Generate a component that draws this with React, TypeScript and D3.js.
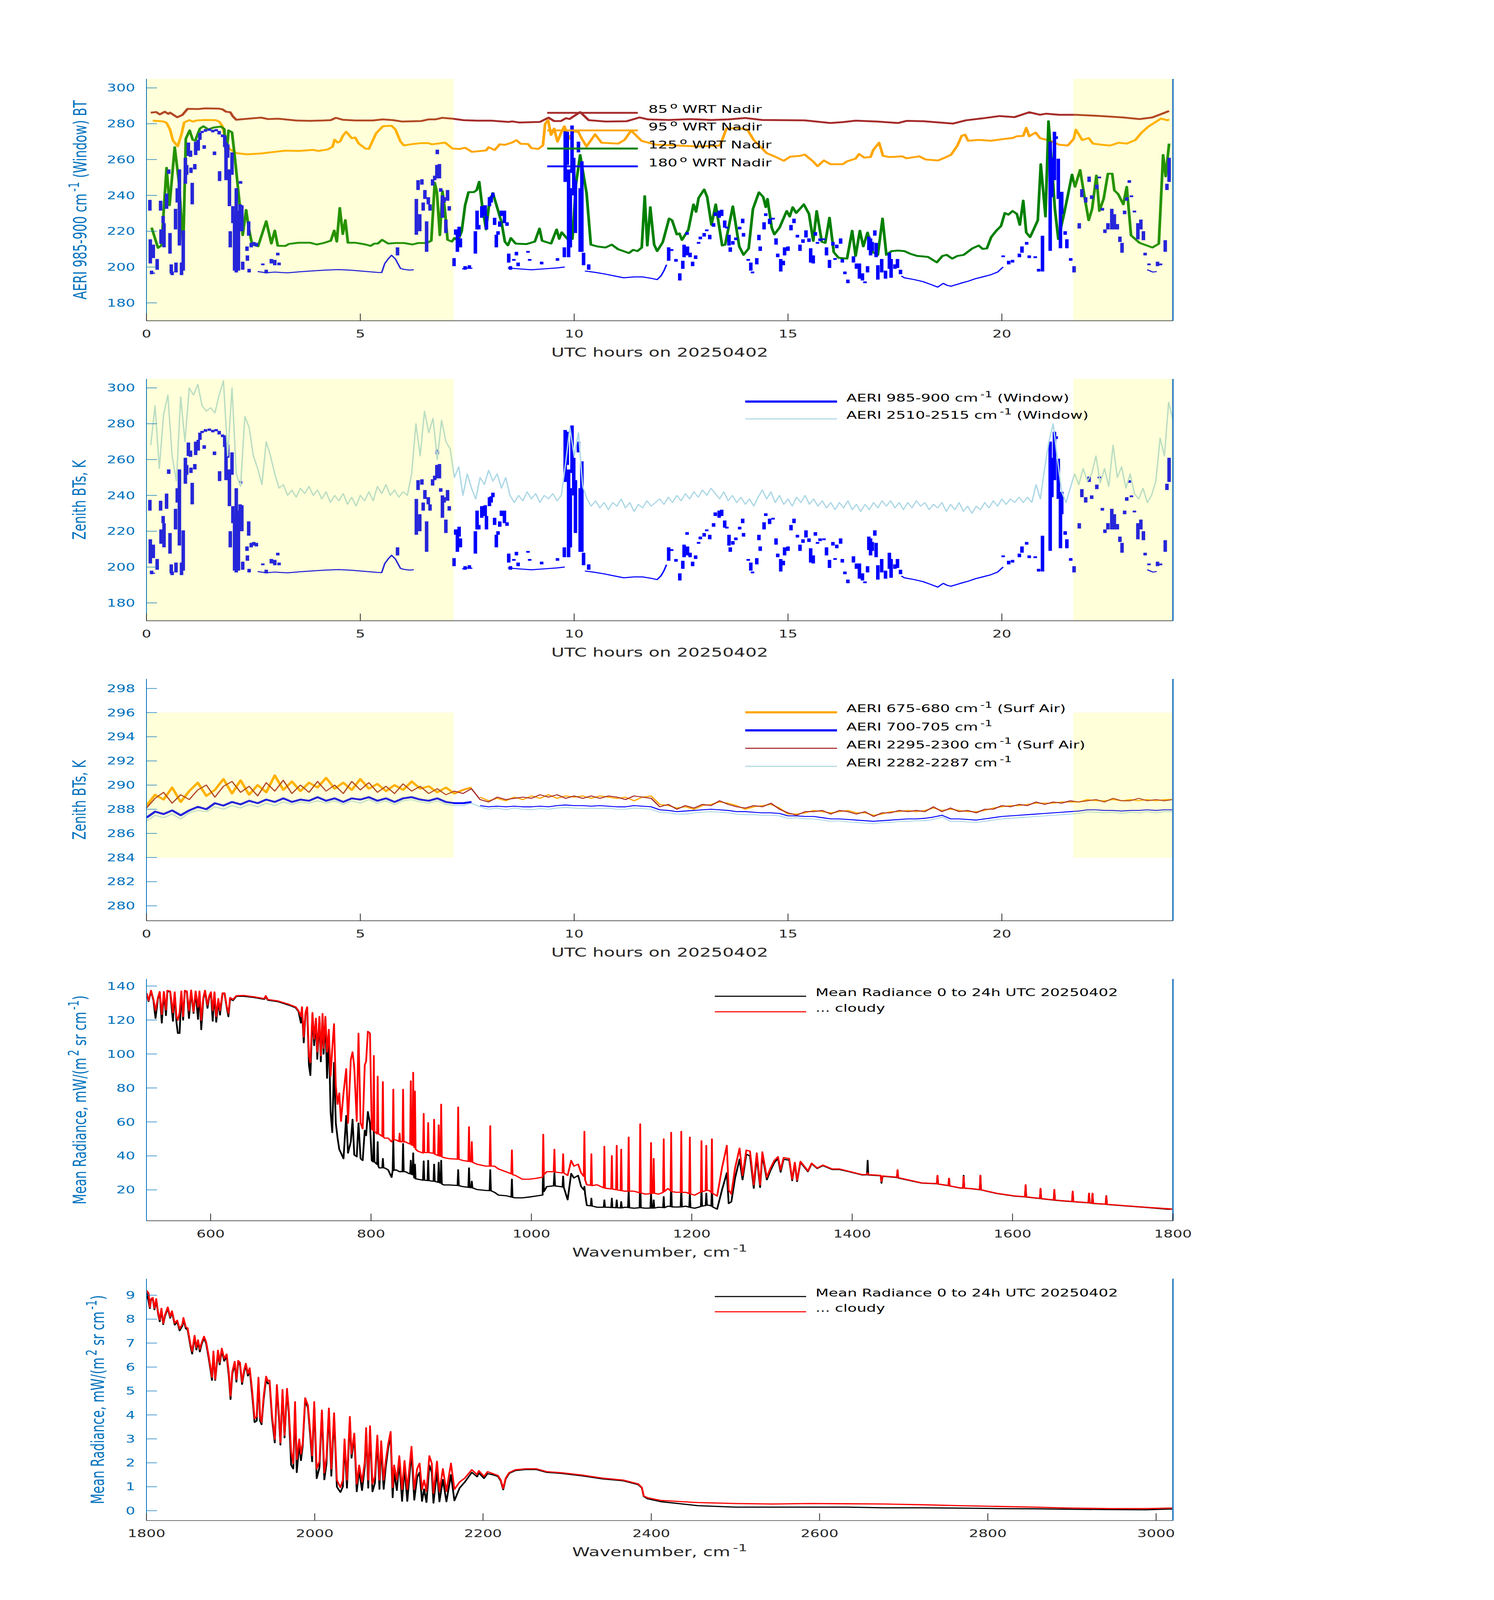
import React, { useLayoutEffect } from "react";
import * as d3 from "d3";

type Pt = [number, number];
type Gap = Pt | null;
type Bar = [number, number, number];
type Part = string | [string];

const FONT = "'DejaVu Sans', Verdana, sans-serif";
const AXIS_BLUE = "#0072BD";
const DARK = "#262626";
const PAGE_W = 3825;
const PAGE_H = 6000;
const PLOT_L = 375;
const PLOT_R = 3003;
const PLOT_H = 907;

// ---------- ticks ----------
const hourTicks = [0, 5, 10, 15, 20];
const btTicks = [180, 200, 220, 240, 260, 280, 300];
const surfTicks = [280, 282, 284, 286, 288, 290, 292, 294, 296, 298];
const radLongTicks = [20, 40, 60, 80, 100, 120, 140];
const wnLongTicks = [600, 800, 1000, 1200, 1400, 1600, 1800];
const radShortTicks = [0, 1, 2, 3, 4, 5, 6, 7, 8, 9];
const wnShortTicks = [1800, 2000, 2200, 2400, 2600, 2800, 3000];

// night (sun down) periods, UTC hours
const nightSpans: Pt[] = [[0, 7.18], [21.67, 24]];

// ---------- panel 1 : window BT at several scene angles ----------
const nadir85: Pt[] = [
  [0.1,286.2],[0.23,286.5],[0.31,285.2],[0.43,286.7],[0.51,285.5],[0.55,286.2],[0.72,283.6],[0.84,284.9],[0.96,288.3],[1.21,288.2],
  [1.37,288.6],[1.7,288.4],[1.78,288],[1.86,286.7],[1.96,286.4],[2.02,284.1],[2.1,282.2],[2.27,282.6],[2.51,283.1],[2.68,283.4],
  [2.84,282.6],[3.08,282.8],[3.49,281.8],[3.82,281.6],[4.14,281.8],[4.31,282],[4.43,283.3],[4.59,282.2],[4.88,281.8],[5.29,281.8],
  [5.53,282.4],[5.77,282],[5.98,281.2],[6.43,281.5],[6.59,282.4],[6.75,282.4],[6.92,283.3],[7.16,282.8],[7.41,282],[7.73,281.7],
  [8.06,281.7],[8.47,281],[8.55,281.3],[8.71,280.7],[9.2,281],[9.4,283.4],[9.53,281.5],[9.69,281.5],[9.81,283.1],[9.89,282.6],
  [10.14,286.5],[10.34,282],[10.59,281.5],[10.74,281.2],[11.23,281.4],[11.53,283.5],[11.73,282.4],[12.22,282.1],[12.72,282.6],[13.21,282.1],
  [13.61,282.4],[14,283.2],[14.4,282.1],[15.39,281.9],[15.99,280.4],[16.28,280.9],[16.58,281.7],[17.08,281.2],[17.57,280.4],[17.77,281.6],
  [18.17,281.4],[18.86,280.1],[19.16,281.9],[19.55,283],[19.95,284.3],[20.3,283.7],[20.64,286.4],[20.89,285],[21.04,285.6],[21.34,285],
  [21.73,285],[22.33,284.3],[22.83,283.5],[23.22,282.6],[23.52,283.5],[23.77,285.8],[23.91,287.1],
];

const nadir95: Pt[] = [
  [0.15,281.7],[0.39,281.3],[0.47,280.5],[0.55,276.8],[0.62,270.6],[0.73,267.4],[0.82,274.2],[0.88,280.7],[1,282],[1.08,281.2],
  [1.17,281.8],[1.37,282.1],[1.62,282],[1.71,281],[1.78,278.4],[1.86,270],[1.94,265.9],[2.1,263.6],[2.35,262.9],[2.68,263.4],
  [3,264.3],[3.25,265],[3.57,264.8],[3.9,265.4],[4.02,264.8],[4.23,265.6],[4.35,267.1],[4.4,271.1],[4.47,269.5],[4.53,270.2],
  [4.59,273.2],[4.67,275.5],[4.8,271.9],[4.88,272.3],[4.96,269],[5.12,266.1],[5.2,265.9],[5.37,274.7],[5.53,278.6],[5.73,278.9],
  [5.82,276.8],[5.94,270],[6.02,267.9],[6.18,268.5],[6.43,269.2],[6.59,269.2],[6.67,268.5],[6.84,269],[6.98,269.5],[7.16,266.1],
  [7.32,265.9],[7.45,266.6],[7.61,264.3],[7.94,265.1],[8,266.9],[8.14,265.3],[8.26,268.5],[8.38,268.2],[8.55,269.5],[8.65,270.8],
  [8.75,268.8],[8.92,268.7],[9,266.4],[9.16,265.9],[9.27,267.9],[9.32,279.9],[9.39,282],[9.46,273.7],[9.53,277.3],[9.61,270],
  [9.69,274.7],[9.77,278.6],[9.89,271.6],[9.98,275.8],[10.1,275.3],[10.18,271.6],[10.29,267.3],[10.49,274.1],[10.64,269.4],[11.03,268.9],
  [11.18,271],[11.33,276.2],[11.58,270.4],[11.92,268.3],[12.42,267.8],[12.91,267.3],[13.41,267.8],[13.56,277.2],[13.81,277.7],[14.05,276.7],
  [14.2,270.9],[14.5,263.6],[14.7,261.6],[14.9,259.3],[15.05,261.6],[15.29,262.1],[15.39,262.8],[15.59,258.9],[15.69,256.3],[15.84,259.5],
  [15.99,257.4],[16.28,257.4],[16.38,259],[16.58,260.5],[16.66,263.1],[16.78,261.1],[16.93,261.4],[16.99,265.2],[17.13,269.4],[17.22,262.1],
  [17.37,261.4],[17.67,261.8],[17.77,260.7],[18.07,261.8],[18.22,260],[18.51,259.5],[18.66,261],[18.81,262.6],[18.96,267.8],[19.06,273.2],
  [19.14,273.9],[19.21,270.5],[19.46,271],[19.75,270.5],[20.05,271.5],[20.25,272],[20.35,273],[20.5,273.2],[20.57,277.7],[20.64,273],
  [20.79,275.1],[20.89,272],[21.14,270.4],[21.34,268.3],[21.54,267.8],[21.68,271.5],[21.73,276.7],[21.88,270.9],[22.03,272],[22.13,268.9],
  [22.33,268.3],[22.53,267.8],[22.73,269.4],[22.92,268.9],[23.12,270.9],[23.27,275.1],[23.42,278.3],[23.72,282.9],[23.87,281.9],[23.91,282.4],
];

const nadir125: Pt[] = [
  [0.12,222],[0.27,210.7],[0.35,212.1],[0.47,255.4],[0.54,234.5],[0.66,266.9],[0.76,247.1],[0.86,211.6],[0.92,271.6],[1.01,276.3],
  [1.08,271.1],[1.14,270.6],[1.25,277.3],[1.33,278.6],[1.45,276.8],[1.57,277.9],[1.74,278.4],[1.82,277],[1.86,260.6],[1.92,276.3],
  [2,275.2],[2.06,262.7],[2.19,232.4],[2.25,217.8],[2.33,231.9],[2.39,222],[2.47,212.6],[2.61,211.6],[2.8,225.6],[2.92,213.1],
  [3,220.4],[3.07,211.9],[3.25,211.8],[3.33,212.9],[3.57,213.6],[3.82,213.6],[3.98,212.6],[4.14,213.4],[4.31,214.7],[4.39,220.4],
  [4.45,214.2],[4.52,233],[4.59,218.4],[4.65,226.2],[4.71,213.6],[4.88,213.6],[5.12,212.6],[5.24,211.8],[5.33,213.1],[5.41,213.1],
  [5.51,215.2],[5.65,213.1],[5.82,213.4],[6.02,213.4],[6.22,212.6],[6.35,213.4],[6.55,213.4],[6.66,214.7],[6.74,247.1],[6.79,241.8],
  [6.86,217.8],[6.92,242.4],[6.97,233.5],[7.04,215.2],[7.14,214.2],[7.2,216.2],[7.28,214.7],[7.37,219.9],[7.45,234.5],[7.53,241.8],
  [7.65,241.8],[7.72,242.9],[7.78,247.6],[7.85,234],[7.94,221],[8.02,236.6],[8.1,241.3],[8.21,232.4],[8.3,225.1],[8.38,214.2],
  [8.45,212.1],[8.52,216.2],[8.63,213.1],[8.88,212.8],[9.08,214.2],[9.19,221.5],[9.25,214.7],[9.46,213.1],[9.59,221],[9.65,215.7],
  [9.71,219.4],[9.86,215.2],[9.96,215.7],[10.04,245.9],[10.14,262.6],[10.29,241.2],[10.39,212.5],[10.54,211.5],[10.73,210.9],[10.88,212.5],
  [11.03,209.9],[11.28,207.8],[11.38,209.6],[11.48,208.9],[11.58,210.9],[11.65,239.6],[11.71,212],[11.78,233.4],[11.87,212.5],[11.94,208.9],
  [12.07,213.8],[12.22,227.1],[12.29,226.1],[12.4,218.2],[12.46,218.8],[12.52,215.1],[12.67,220.8],[12.79,235],[12.85,230.8],[12.91,238.6],
  [13.04,243.3],[13.11,239.1],[13.21,223.5],[13.31,235],[13.46,212],[13.53,212.5],[13.71,233.9],[13.86,211.5],[13.96,206.8],[14.08,210.4],
  [14.18,232.4],[14.32,241.7],[14.42,239.1],[14.48,233.4],[14.52,238.1],[14.62,221.9],[14.68,218.2],[14.8,221.9],[14.97,231.3],[15.04,228.2],
  [15.11,233.4],[15.19,230.2],[15.29,232.8],[15.37,235],[15.49,229.7],[15.59,214.6],[15.67,231.3],[15.79,214.1],[15.87,213.5],[15.97,227.6],
  [16.07,208.3],[16.18,205.2],[16.38,204.7],[16.5,220.3],[16.58,206.2],[16.68,220.3],[16.76,211.5],[16.86,219.3],[16.98,208.3],[17.1,206.8],
  [17.21,227.1],[17.3,206.8],[17.42,208.9],[17.57,209.2],[17.72,208.9],[17.87,207.3],[18.02,206.2],[18.27,205.7],[18.48,202.6],[18.61,206.2],
  [18.71,206.8],[18.84,204.7],[18.96,206.2],[19.11,206.8],[19.31,210.4],[19.46,212],[19.55,210.1],[19.65,210.4],[19.75,216.7],[19.87,220.3],
  [19.98,222.9],[20.07,230.2],[20.15,229.2],[20.25,231.3],[20.35,229.7],[20.42,223.5],[20.5,237.1],[20.57,219.3],[20.66,216.7],[20.74,220.8],
  [20.84,226.1],[20.91,257.4],[21.02,228.2],[21.09,281.4],[21.17,256.3],[21.24,232.4],[21.32,215.6],[21.44,228.2],[21.54,239.6],[21.64,251.6],
  [21.71,244.8],[21.83,254.2],[21.93,239.6],[22.03,226.1],[22.11,232.4],[22.21,251.1],[22.28,231.3],[22.38,238.1],[22.48,252.1],[22.58,252.1],
  [22.63,242.8],[22.72,240.7],[22.84,235],[22.92,244.8],[23.02,217.7],[23.22,213.5],[23.52,210.9],[23.67,213],[23.77,262.6],[23.83,250.6],
  [23.91,268.9],
];

// AERI 985-900 cm-1 zenith window BT: cloudy stretches as [hour, low K, high K] strokes
const win985Bars: Bar[] = [
  [0.08,231.5,237.5],[0.09,202,215.5],[0.12,196,198],[0.16,205,212.5],[0.25,198.5,204.5],[0.33,231.5,237],[0.34,213,221],[0.39,224.5,228.5],
  [0.41,211,224.5],[0.47,232.5,241],[0.52,252,254.5],[0.55,207.5,219],[0.58,196.5,201.5],[0.6,195.5,197.5],[0.68,221,232.5],[0.69,197,202.5],
  [0.72,236,244],[0.77,212,254.5],[0.82,195.5,202.5],[0.86,198,220.5],[0.91,246.5,261],[0.94,251.5,257],[0.98,262,269.5],[1.03,261.5,265],
  [1.04,252.5,255.5],[1.07,235,247],[1.13,254.5,257.5],[1.15,262.5,270],[1.21,265,271],[1.25,271,275],[1.3,274.8,276],[1.35,266,268],
  [1.38,275.5,277],[1.47,276,277.3],[1.55,275.2,276.6],[1.59,262.5,264.5],[1.63,275.8,277],[1.7,274,276],[1.71,248,253.5],[1.78,272.5,274],
  [1.83,267,273.5],[1.86,248.5,269.5],[1.9,261,268.5],[1.94,234,254.5],[1.96,211,220],[2,251.5,264],[2.02,224.5,234],[2.06,198,229.5],
  [2.1,197,244],[2.15,198,231.5],[2.19,220,235],[2.2,246.5,248],[2.23,220,234.5],[2.25,198.5,203],[2.35,209,211.5],[2.36,203.5,206.5],
  [2.39,217.5,225.5],[2.4,197,199],[2.45,211,213.5],[2.51,212,214],[2.57,211.5,213.5],[2.72,201,202],[2.8,196.5,198.5],[2.92,202,204.5],
  [3,201,204],[3.07,206.5,208],[3.1,201,202.5],[5.87,206.5,211],
  [6.31,218,238],[6.35,243,248.5],[6.39,220,229.5],[6.44,246,249],[6.47,231.5,236],[6.51,238,243],[6.55,208.5,225.5],[6.59,235,239],
  [6.63,231.5,235],[6.69,245.5,249],[6.74,248.5,251],[6.79,249.5,257],[6.8,263,265.5],[6.85,249.5,257.5],[6.88,242,244],[6.92,227.5,240],
  [6.96,236,239],[7,219,226.5],[7.04,237,243],[7.08,231.5,234],[7.19,200.5,205],[7.23,218,221],[7.27,208.5,220],[7.31,217,222.5],
  [7.34,211,216],[7.45,198.5,200.5],[7.55,199,201],
  [7.69,207.5,220],[7.73,221,231.5],[7.77,221,223.5],[7.84,227.5,234],[7.88,229.5,234],[7.92,228.5,234.5],[7.95,221,228.5],[8.02,234,239],
  [8.06,236,239.5],[8.1,239,241.5],[8.14,223.5,227.5],[8.18,211,218],[8.22,218,220],[8.26,222.5,225.5],[8.3,228.5,231.5],[8.37,224.5,231.5],
  [8.43,223,225],[8.47,202.5,207.5],[8.51,198.5,200.5],[8.59,203.5,204.5],[8.65,206.5,208.5],[8.69,200.5,202.5],[8.92,208,209],[8.96,203.5,204.5],
  [9.24,201.5,203],[9.61,203.5,205],[9.77,205.5,211],
  [9.79,247.5,276.5],[9.84,257,275.5],[9.87,205.5,254.5],[9.91,211,244],[9.95,252.5,279],[9.99,240,261],[10.03,219,248.5],[10.1,264,270],
  [10.14,208.5,244],[10.18,208.5,259],[10.22,201,208],[10.34,198.5,201.5],
  [12.21,203.5,211],[12.28,209,210],[12.38,203,204.5],[12.47,192.5,196.5],[12.54,199,203.5],[12.57,205.5,212.5],[12.64,218,219.5],[12.65,206.5,211.5],
  [12.71,205.5,208],[12.77,200.5,203],[12.84,204.5,206.5],[12.91,213,214],[12.95,215.5,217],[13.04,217,219],[13.1,220,221],[13.17,215.5,218],
  [13.26,222.5,224.5],[13.3,228.5,230.5],[13.39,227.5,231.5],[13.45,228.5,232],[13.52,222,226],[13.57,221.5,222.5],[13.62,212,218],[13.65,208.5,211],
  [13.71,212.5,214.5],[13.78,215,216.5],[13.87,221,222.5],[13.94,224.5,227],[13.96,217,219],[14.07,203.5,204.5],[14.13,198,202.5],[14.17,196.5,197.5],
  [14.27,201.5,205],[14.32,215,218],[14.35,209,211.5],[14.44,221,225],[14.48,228.5,230],[14.57,224,227],[14.65,226.5,227.5],[14.72,212.5,216],
  [14.76,205.5,207.5],[14.83,197.5,204.5],[14.89,201,203.5],[14.92,206.5,211],[15,209,211.5],[15.07,220.5,223.5],[15.14,224.5,227],[15.22,216.5,218],
  [15.28,209,212.5],[15.35,213.5,215.5],[15.42,216.5,220.5],[15.49,214,216],[15.53,202.5,210.5],[15.59,202,206.5],[15.64,217.5,219.5],[15.69,213,214],
  [15.75,214.5,216],[15.84,215,216],[15.9,206.5,211],[15.97,199.5,204],[16.05,212,214],[16.1,204,205],[16.14,210.5,212.5],[16.23,213,216],
  [16.27,202.5,204.5],[16.33,196,197.5],[16.4,191,193],[16.53,202.5,206],[16.6,199,202],[16.67,193.5,202],[16.74,192.5,196.5],[16.8,191,192],
  [16.86,197,200.5],[16.89,209.5,217],[16.93,206.5,216],[16.97,209,214],[17.03,217.5,220.5],[17.06,205.5,213.5],[17.1,193,201],[17.19,197,204.5],
  [17.28,193.5,198],[17.37,199,208],[17.41,194,204.5],[17.5,199,201.5],[17.56,199.5,204.5],[17.63,196,198.5],
  [20.03,205.5,206.5],[20.16,201.5,203.5],[20.25,202.5,204],[20.41,205.5,207.5],[20.47,208,211.5],[20.58,212.5,214],[20.64,205,206.5],[20.78,205,206],
  [20.86,197.5,199],[20.95,197.5,217.5],[21.13,209,270],[21.17,239,261],[21.23,248.5,275.5],[21.27,271.5,273],[21.32,238,260.5],[21.37,210.5,238],
  [21.4,229.5,242],[21.48,218,220],[21.52,210.5,215.5],[21.61,203.5,205],[21.69,197,200.5],[21.81,221.5,224.5],[21.87,239,243.5],[21.96,236,239],
  [22.04,247.5,250.5],[22.1,238,240],[22.22,243.5,246],[22.28,249.5,250.5],[22.35,231.5,233],[22.41,219,221],[22.48,221,224.5],[22.57,221,232.5],
  [22.63,221,229.5],[22.7,221,224],[22.76,214,217],[22.81,208,213.5],[22.87,229.5,231.5],[22.92,237,239],[22.98,247,248.5],[23.03,239,240],
  [23.1,230.5,231.5],[23.18,215.5,224.5],[23.25,221,226.5],[23.31,215,220],[23.35,206.5,208],[23.44,201,202],[23.64,200.5,203],[23.71,201,202],
  [23.82,208.5,215],[23.86,243,246.5],[23.91,247.5,261],
];

// same channel, clear-sky stretches (null = break)
const win985Clear: Gap[] = [
  [0.1,197],[0.2,196.5],null,
  [2.6,197.5],[2.8,196.8],[3,197.2],[3.12,197],[3.3,196.8],[3.6,197.4],[3.9,197.9],[4.2,198.3],[4.5,198.6],[4.8,198.2],[5.1,197.6],
  [5.4,197],[5.5,196.9],[5.57,201.9],[5.65,204.5],[5.73,206.6],[5.82,204.5],[5.94,199.2],[6.02,198.7],[6.15,198.3],[6.25,198.5],null,
  [7.38,199],[7.5,199.5],[7.62,199.3],null,
  [8.45,199.5],[8.7,199],[9,198.5],[9.3,199],[9.6,199.5],[9.78,200],null,
  [10.25,197.8],[10.5,197],[10.72,196.1],[10.95,195],[11.16,194],[11.4,194.5],[11.6,194.5],[11.8,193.7],[11.94,193],[12.03,195.1],
  [12.1,198],[12.16,201.3],null,
  [17.65,195],[17.72,194],[17.95,193],[18.15,191.9],[18.35,190.2],[18.5,188.8],[18.63,190.9],[18.72,189.8],[18.81,189.3],[19.03,190.9],
  [19.2,192],[19.38,193.5],[19.55,194.5],[19.73,195.6],[19.9,197.2],[20.03,200],null,
  [23.4,198.5],[23.53,197.2],[23.62,197.5],
];

// ---------- panel 2 : AERI 2510-2515 cm-1, every 0.1 h from 0 h ----------
const win2510Step = 0.1;
const win2510: (number | null)[] = [
  null,268,290,255,285,296,262,248,295,270,300,296,302,290,287,289,286,296,304,262,300,252,245,284,278,262,255,246,270,262,252,244,
  246,240,243,239,244,241,245,240,243,238,242,236,240,237,241,235,239,234,240,237,242,237,245,241,246,240,243,239,242,240,
  252,280,262,287,275,283,260,282,270,266,250,256,
  240,252,244,238,250,246,254,248,252,244,250,240,
  236,240,237,242,238,241,236,240,238,241,237,240,
  258,278,262,275,245,
  238,234,237,233,236,232,236,234,238,233,236,231,235,233,237,234,236,238,235,239,236,240,
  237,241,238,242,239,243,240,244,241,238,242,237,240,236,239,235,238,234,239,243,238,242,
  236,240,235,238,234,239,236,240,235,238,234,237,233,236,232,236,233,237,232,235,231,235,232,236,233,237,234,237,233,236,
  232,236,233,237,234,236,232,235,233,236,231,235,232,236,
  231,234,230,234,232,236,233,237,234,238,235,238,236,239,236,239,236,246,
  238,255,270,280,260,242,
  236,244,252,246,255,248,252,262,247,255,245,268,250,256,244,252,241,238,244,236,240,248,272,262,292,282,
];

// ---------- panel 3 : surface-air channels, every 0.2 h from 0 h ----------
const surfStep = 0.2;
const bt675: number[] = [
  288.3,289.2,288.8,289.8,288.6,289.5,290.2,289.1,289.6,290.5,289.3,290.4,289.2,290.0,289.4,290.8,289.6,290.3,289.5,290.2,
  289.8,290.6,289.7,290.2,289.6,290.5,289.7,290.1,289.5,290.0,289.6,290.3,289.7,289.9,289.4,289.8,289.3,289.6,289.8,289.0,
  288.7,288.9,288.7,289.0,288.8,289.1,288.9,289.2,288.9,289.1,289.0,289.1,288.9,289.1,289.0,288.9,289.0,288.7,289.0,289.1,
  288.4,288.3,288.1,288.2,288.0,288.3,288.4,288.6,288.5,288.3,288.0,288.2,288.3,288.4,288.1,287.6,287.6,287.7,287.9,287.8,
  287.7,287.8,287.9,287.7,287.7,287.5,287.6,287.8,287.8,287.9,287.8,287.9,288.1,287.9,288.0,287.9,287.8,287.8,287.9,288.1,
  288.2,288.3,288.3,288.4,288.5,288.5,288.5,288.6,288.6,288.6,288.8,288.7,288.7,288.8,288.7,288.8,288.7,288.8,288.7,288.8,
  288.8,
];
const bt700: number[] = [
  287.3,287.8,287.6,287.9,287.5,287.9,288.2,288.0,288.5,288.3,288.6,288.4,288.7,288.5,288.8,288.6,288.9,288.6,288.8,288.7,
  289.0,288.7,288.9,288.6,288.9,288.8,289.0,288.7,288.9,288.6,288.9,289.0,288.8,288.7,288.9,288.6,288.5,288.5,288.6,288.3,
  288.2,288.25,288.2,288.25,288.2,288.2,288.25,288.2,288.3,288.35,288.3,288.3,288.25,288.3,288.25,288.2,288.2,288.3,288.25,288.2,
  287.95,287.9,287.8,287.85,287.9,287.95,288.0,287.95,287.9,287.8,287.8,287.75,287.7,287.7,287.65,287.45,287.45,287.4,287.4,287.3,
  287.2,287.2,287.15,287.1,287.05,287.0,287.05,287.1,287.15,287.2,287.2,287.25,287.35,287.5,287.2,287.2,287.15,287.1,287.2,287.3,
  287.4,287.45,287.5,287.55,287.6,287.65,287.7,287.75,287.8,287.85,287.95,287.95,287.9,287.9,287.85,287.9,287.9,287.95,287.9,287.95,
  287.95,
];
const bt2295: number[] = [
  288.1,288.9,289.4,288.5,289.2,288.8,289.6,290.0,289.0,289.9,290.3,289.4,289.9,289.1,290.2,289.5,290.4,289.3,290.0,289.4,
  290.3,289.5,290.0,289.3,290.3,289.6,290.2,289.4,289.9,289.3,290.1,289.5,289.9,289.3,289.7,289.2,289.5,289.3,289.7,288.8,
  288.6,289.0,288.8,288.9,289.0,288.9,289.2,289.0,289.2,288.9,289.1,288.9,289.1,288.9,289.1,289.0,288.8,289.1,289.0,288.9,
  288.2,288.4,288.0,288.3,288.1,288.4,288.3,288.7,288.4,288.2,288.1,288.3,288.2,288.5,288.0,287.7,287.5,287.8,287.8,287.9,
  287.6,287.9,287.8,287.6,287.8,287.4,287.7,287.7,287.9,287.8,287.9,287.8,288.2,287.8,288.1,287.8,287.9,287.7,288.0,288.0,
  288.3,288.2,288.4,288.3,288.6,288.4,288.6,288.5,288.7,288.6,288.7,288.8,288.6,288.9,288.7,288.7,288.9,288.7,288.8,288.7,
  288.8,
];
const bt2282: number[] = [
  287.0,287.5,287.3,287.6,287.2,287.7,287.9,287.8,288.2,288.0,288.3,288.1,288.4,288.2,288.5,288.3,288.6,288.4,288.6,288.5,
  288.7,288.5,288.7,288.4,288.7,288.5,288.8,288.5,288.7,288.4,288.7,288.8,288.6,288.5,288.7,288.4,288.3,288.3,288.5,288.2,
  288.0,288.1,287.95,288.1,288.0,287.95,288.05,288.0,288.1,288.15,288.1,288.05,288.1,288.05,288.1,288.0,288.0,288.1,288.05,288.0,
  287.75,287.7,287.6,287.6,287.7,287.75,287.8,287.75,287.7,287.6,287.55,287.55,287.5,287.5,287.45,287.25,287.3,287.2,287.2,287.1,
  287.0,287.05,286.95,286.9,286.85,286.8,286.9,286.9,287.0,287.0,287.05,287.05,287.15,287.35,287.0,287.0,286.95,286.9,287.0,287.1,
  287.2,287.25,287.3,287.35,287.4,287.45,287.5,287.55,287.6,287.65,287.8,287.75,287.7,287.75,287.65,287.75,287.7,287.8,287.7,287.8,
  287.8,
];

// ---------- panel 4 : [wavenumber, mean radiance, cloudy radiance] 520-1800 ----------
const specLong: Bar[] = [
  [520,135.9,135.9],[522.6,131,131.5],[525.7,137,137.4],[528.7,131.5,132.1],[531.3,121,125.5],[534.3,132.5,133.2],[536.5,136.5,136.7],
  [539.1,118.3,123.3],[541.7,136.5,136.7],[544.3,122.7,126],[546.1,137,137.4],[549.6,136.5,137],[553,119.4,124.4],[555.2,136,136.5],
  [557.4,118.8,122.1],[559.1,112.2,119.9],[561.3,112.2,124.4],[563.5,136.5,137],[565.7,120,122.1],[567.8,137,137.4],[570.4,136.5,137],
  [573,121,125.5],[575.7,137,137.6],[578.7,124,124.9],[581.3,136.5,137],[584.3,120.5,127.7],[586.1,136.5,137],[588.3,114.4,119.9],
  [590.9,132.5,133.2],[593,137,137.4],[596.1,127,128.8],[598.3,133.5,134.3],[600.4,136,136.5],[602.6,119.4,125.5],[604.8,136,136.5],
  [607,118.8,122.1],[609.6,131.5,132.6],[611.7,123,125.5],[614.8,135.5,135.9],[617.4,135.5,135.9],[620,127.5,128.2],[622.2,122,124],
  [624.3,132.5,133.2],[627.8,131.5,132.1],[632.2,134,134.3],[640.9,134,134.5],[653.9,133.3,133.7],[667,132.2,132.6],[668.7,133.8,134.3],
  [671.3,131.7,132.1],[684.3,130.8,131.2],[697.4,128.8,129.3],[706.1,127.2,127.7],[709.6,125,125.5],[712.6,118.3,122.1],[713.9,127,127.7],
  [716.1,106.7,110],[718.3,123.5,124.4],[720.4,127,127.7],[722.6,93.5,99],[724.4,87.4,95],[727,123.5,124.4],[729.1,105,108.9],
  [731.3,120,121],[733,97,101.2],[735.7,121,122.1],[737.4,95.5,99],[739.6,122.5,123.8],[740.9,100,103.4],[743.1,121,122.1],
  [745.2,85.8,101.2],[747.4,112,114.4],[749.6,66,86.9],[751.7,53.8,103.4],[753.9,95,117.7],[756.1,59.3,81.4],[758.3,50.5,70.4],
  [760.4,43.9,77],[762.6,41.7,60.4],[765.7,38.4,77],[769.1,63.7,91.3],[771.3,41.7,59.3],[774.8,48.3,96.8],[777,61.5,101.2],
  [779.1,40.6,92.4],[782.2,39.5,60.4],[784.4,59.3,112.2],[787,38.4,59.3],[789.6,37.3,56],[792.2,55,93.5],[793.9,52,95.7],
  [796.1,66,113.3],[798.7,59.3,112.2],[800.9,37.3,56],
  [802.7,36.5,55],[803.5,55,99],[804.3,36.5,54.5],[807.5,35,53],[808.3,48.3,86.9],[809.1,34,53],[810.4,32.9,52.7],
  [814,33,51.5],[814.8,38.4,83.6],[815.6,33,51],[817,32.9,50.5],[821.3,31.8,50.5],[825.7,27.4,48.3],
  [827,31.5,49.5],[827.8,49.4,79.2],[828.6,31.5,49.5],[831.3,31.8,49.4],[835,30.8,48.5],[835.7,30.7,53.3],[836.4,30.8,48.3],
  [839.2,30.7,48.3],[840,47.2,79.2],[840.8,30.7,48.2],[843,30.7,48.3],[847.4,29.6,47.2],
  [848.8,29.5,47],[849.6,37.3,84.1],[850.4,29.2,46.5],[851.8,29,46.2],[852.6,41.7,89.1],[853.4,28.5,46],
  [854,27,45],[854.8,35,78.1],[855.6,26.5,44],[858.3,26.3,42.8],
  [864.8,25.7,41.7],[865.7,37,64.9],[866.5,25.7,42],[870.5,25.5,42],[871.3,37.3,59.5],[872.1,25.5,42],[875.7,25.2,41.7],
  [877.9,25.1,41.5],[878.7,35,61.5],[879.5,25,41],[883.6,24.5,40.2],[884.4,36.2,58.2],[885.2,24.3,40],
  [886.7,24,39.8],[887.5,37.3,70.4],[888.3,23.5,39.5],[890.9,22.9,39],[897.4,22.9,38.4],
  [907.9,22.6,38.1],[908.7,31.8,68.7],[909.5,22.5,38],[914.8,21.9,37.3],
  [921.4,21.5,36.8],[922.2,32.9,57.1],[923,21.4,36.7],[924.9,21.3,36.5],[925.7,25,48.3],[926.5,21.2,36.3],
  [932.2,20.2,35.1],[943,19.7,34],[947.9,19.6,34],[948.7,31.8,57.7],[949.5,19.5,34],[953.9,18.6,34],[959.1,16.9,32.3],
  [969.1,16.5,30.5],[974.9,15.8,29.5],[975.7,26.3,43.4],[976.5,15.6,29],[980,15.3,28.5],[988.7,15.3,26.3],[997.4,15.8,26.3],
  [1006.1,16.4,26.8],[1014,17,27.5],[1014.8,37.3,52.7],[1015.6,19,29],[1019.1,21.9,30.7],
  [1027.8,22.4,30.7],[1028.7,30,43.9],[1029.5,22.3,30.5],[1036.5,21.9,30.1],[1038.8,21.7,30],[1039.6,28,41.2],[1040.4,21.5,30],
  [1045.2,14.2,28.5],[1049.6,29.6,37.3],[1053,27,34],[1058.3,28.5,35.1],[1062,22,30],
  [1065.3,20,28],[1066.1,22,54.4],[1066.9,18,26],[1069.1,10.9,23],[1074,10.6,22.7],[1074.8,15,41.2],[1075.6,10.5,22.5],
  [1081.7,9.8,23],[1090.2,9.8,21.2],[1091,14,45.6],[1091.8,9.8,21],[1095.6,9.8,20.8],
  [1099.5,9.6,20.6],[1100.3,15,40.1],[1101.1,9.6,20.5],[1105.6,9.5,20.1],[1106.4,14,46.1],[1107.2,9.5,20],
  [1111.2,9.4,19.6],[1112,13,43.9],[1112.8,9.4,19.5],[1116.6,9.8,19.2],[1120.5,9.6,19.3],[1121.3,20,51],[1122.1,9.5,19.3],
  [1128.2,9.2,19.2],[1134.9,9.5,18.3],[1135.7,27.4,58.8],[1136.5,9.5,18.2],[1142.2,9.2,17.5],
  [1148.4,9.3,17.8],[1149.2,18,47.8],[1150,9.3,18],[1151.7,9.3,18],[1152.5,14,38.4],[1153.3,9.3,18],[1158.5,9.8,17.5],
  [1164.2,9.6,18.5],[1165,16,50],[1165.8,9.5,19],[1170.2,10.4,20.8],[1173.5,10.2,19.5],[1174.3,24,53.8],[1175.1,10,19],
  [1180.4,9.9,18.6],[1186.1,10,18.6],[1186.9,21,54.4],[1187.7,10,18.5],[1192.5,10.4,18.6],
  [1196.8,9.8,17.8],[1197.6,18,51],[1198.4,9.6,17.6],[1203.7,9.2,16.9],[1211.3,10.2,18.8],[1212.1,20,48.9],[1212.9,10.4,19],
  [1217.3,10.8,19.5],[1218.1,18,46.1],[1218.9,11,19.7],[1221.4,11,19.7],[1224.3,10.5,18.5],[1225.1,22,50],[1225.9,10,18],
  [1231.6,8.7,16.4],[1237.7,20,32.9],[1243.7,30,46.1],[1246,12,20],[1249.3,13,17.5],[1254,27,32.9],[1259.6,38,44.5],
  [1263.3,26,28.5],[1268,41,43.4],[1272.6,40,42.8],[1277.3,21,23],[1281,39.5,41.7],[1285.2,21.5,23],[1288,40.5,42.3],
  [1293.6,26,27.4],[1298.2,31.5,32.9],[1302.9,36,37.3],[1307.5,38.5,39.5],[1310.8,30.5,31.8],[1314.5,38,39],[1321.5,37.5,38.4],
  [1325.2,25.5,26.3],[1328.5,35.5,36.2],[1331.3,25,25.7],[1335.5,36.3,36.8],[1344.8,30.8,31.2],[1349.5,35.4,35.7],[1356.4,32.6,32.9],
  [1363.4,34.3,34.6],[1375.1,32,32.3],[1384.4,32,32.3],[1393.7,31,31.2],[1412.3,28.8,29],[1418.5,28.9,29.1],[1419.3,37.3,30],
  [1420.1,28.8,29],[1435.6,28.3,28.5],[1436.5,24,25],[1438,28,28.2],[1455.8,27.3,27.5],[1456.6,31.5,31.8],[1457.4,27,27.2],
  [1486.8,24,24.1],[1505.6,23.6,23.7],[1506.4,28.3,28.5],[1507.2,23.4,23.5],[1520,22.5,22.6],[1520.8,26.6,26.8],[1521.6,22.3,22.4],
  [1533.4,21.2,21.3],[1538.2,21,21.1],[1539,28.5,27.9],[1539.8,21,21],[1547.4,20.7,20.8],[1559.1,20.1,20.2],[1559.9,28.5,28.5],
  [1560.7,20,20.1],[1580,17.9,18],[1603.3,16.3,16.4],[1615.5,15.9,16],[1616.3,22.5,23],[1617.1,15.8,15.9],[1634.1,14.9,15],
  [1634.9,20.5,20.8],[1635.7,14.8,14.9],[1651.3,14,14.1],[1652.1,19.8,20.2],[1652.9,13.9,14],[1674.2,13.1,13.2],[1675,19,19.2],
  [1675.8,13,13.1],[1694.6,12.4,12.5],[1695.4,17.8,18],[1696.2,12.3,12.4],[1698.9,12.1,12.2],[1699.7,17.8,18],[1700.5,12,12.1],
  [1716.1,11.5,11.6],[1716.9,16.5,16.4],[1717.7,11.4,11.5],[1743,10.5,10.6],[1766.2,9.7,9.8],[1794.2,8.6,8.9],[1800,8.7,8.7],
];

// ---------- panel 5 : [wavenumber, mean radiance, cloudy radiance] 1800-3020 ----------
const specShort: Bar[] = [
  [1800,9.1,9.2],[1802.5,8.75,9.08],[1804,8.45,8.5],[1805.4,8.8,8.85],[1807.5,8.85,8.9],[1809.5,8.4,8.45],[1811.6,8.8,8.85],
  [1813.7,8.25,8.3],[1815.8,7.9,7.98],[1817.8,8.4,8.45],[1819.9,7.78,7.83],[1822,8.12,8.18],[1825.3,8.45,8.5],[1828.2,8.05,8.1],
  [1830.3,8.3,8.34],[1833.6,7.76,7.83],[1836.5,7.9,7.95],[1839.4,7.52,7.6],[1842.7,7.72,7.79],[1843.9,8.0,8.06],[1846.8,7.6,7.67],
  [1848.9,7.56,7.63],[1852.2,6.88,6.97],[1854.3,6.55,6.66],[1857.2,7.25,7.32],[1859.3,6.72,6.82],[1861.3,7.06,7.13],[1863.4,6.64,6.74],
  [1865.5,6.94,7.01],[1868.4,7.22,7.28],[1870.9,6.98,7.05],[1873.8,6.4,6.5],[1875.9,5.93,6.03],[1877.9,5.45,5.57],[1879.6,6.58,6.66],
  [1881.7,5.45,5.49],[1885,6.6,6.7],[1887,6.1,6.19],[1889.5,6.7,6.78],[1892.4,6.25,6.35],[1895.3,6.45,6.54],[1897.8,5.65,5.8],
  [1899.9,4.65,4.79],[1902,5.7,5.8],[1904.9,6.15,6.23],[1906.9,5.38,5.49],[1909,6.2,6.27],[1911.1,6.1,6.19],[1913.6,5.28,5.37],
  [1916.1,5.8,5.88],[1918.1,6.08,6.15],[1920.6,5.63,5.72],[1922.7,5.88,5.96],[1925.6,4.85,5.02],[1928.5,3.69,3.85],[1931,3.75,3.93],
  [1933.1,5.45,5.57],[1935.1,3.75,3.93],[1936.8,3.6,3.69],[1939.3,4.65,4.79],[1942.2,5.52,5.61],[1944.2,5.3,5.41],[1946.3,5.35,5.45],
  [1949.2,3.85,4.0],[1952.5,2.84,2.99],[1955,5.15,5.26],[1957.5,3.85,4.0],[1959.2,2.75,2.84],[1961.7,4.95,5.06],[1964.1,3.05,3.15],
  [1967,5.0,5.1],[1969.1,4.1,4.24],[1972,1.9,2.45],[1974.5,1.75,1.98],[1976.6,4.4,4.55],[1978.6,1.6,2.14],[1981.6,2.8,2.99],
  [1983.6,2.1,2.37],[1985.7,2.7,2.84],[1988.6,4.6,4.71],[1991.9,4.3,4.4],[1994.8,3.05,3.23],[1996.9,2.05,2.29],[1999.4,4.45,4.55],
  [2002.3,1.35,1.75],[2005.6,1.8,2.06],[2008.5,4.1,4.2],[2011.4,1.3,1.59],[2013.9,1.95,2.21],[2016.8,4.15,4.28],[2019.7,1.45,1.75],
  [2023,3.95,4.08],[2026.3,1.0,1.28],[2030.5,0.77,0.97],[2033.4,1.0,1.28],[2035.4,2.8,2.99],[2038.3,0.95,1.28],[2041.7,3.8,3.93],
  [2043.7,2.2,2.37],[2047,3.1,3.23],[2049.9,0.8,1.12],[2052.8,1.7,1.9],[2056.2,0.85,1.2],[2059.5,1.85,2.06],[2061.1,3.35,3.46],
  [2063.6,0.95,1.28],[2065.7,3.4,3.54],[2068.6,0.8,1.12],[2071.5,1.15,1.43],[2074.4,3.0,3.15],[2076.9,0.9,1.28],[2079,2.75,2.91],
  [2081.9,0.9,1.28],[2084.3,1.8,2.06],[2087.2,2.6,2.76],[2090.2,3.15,3.3],[2092.6,0.55,0.97],[2094.3,1.6,1.9],[2097.6,0.85,1.28],
  [2100.5,2.05,2.29],[2103.8,0.4,0.89],[2106.7,1.8,2.09],[2110,0.4,0.89],[2115,2.45,2.68],[2118.3,0.45,0.89],[2121.7,1.4,1.75],
  [2124.6,1.6,1.98],[2127.5,0.4,0.89],[2130,0.9,1.28],[2132.8,0.35,0.81],[2136.2,1.9,2.29],[2139.1,1.6,1.98],[2141.1,0.32,0.73],
  [2145.3,1.65,2.06],[2148.2,0.38,0.81],[2152.3,1.3,1.75],[2156.5,0.38,0.81],[2161.9,1.5,1.98],[2166,0.42,0.89],[2172.2,0.95,1.2],
  [2178.4,1.2,1.36],[2186.7,1.6,1.71],[2193,1.42,1.51],[2195,1.58,1.67],[2201.2,1.35,1.43],[2205.4,1.55,1.63],[2211.6,1.5,1.55],
  [2217.8,1.43,1.47],[2221.1,1.24,1.28],[2224,0.88,0.93],[2226.9,1.32,1.36],[2231.1,1.56,1.59],[2238.5,1.68,1.71],[2251,1.72,1.75],
  [2263.4,1.72,1.75],[2275.9,1.6,1.63],[2292.4,1.56,1.59],[2317.3,1.46,1.49],[2342.2,1.33,1.36],[2366.6,1.25,1.28],[2384.4,1.09,1.12],
  [2388.8,0.95,0.97],[2391,0.6,0.62],[2395.5,0.5,0.54],[2411,0.38,0.43],[2455.4,0.21,0.34],[2499.8,0.15,0.3],[2544.2,0.15,0.28],
  [2588.6,0.15,0.3],[2633,0.15,0.29],[2677.4,0.12,0.28],[2721.8,0.12,0.25],[2766.2,0.11,0.21],[2810.6,0.09,0.18],[2855,0.08,0.15],
  [2899.4,0.06,0.11],[2943.8,0.05,0.09],[2988.2,0.04,0.09],[3015,0.07,0.11],[3020,0.07,0.11],
];

// ---------- helpers ----------
type Scale = d3.ScaleLinear<number, number>;

function rich(parts: Part[], fs: number) {
  const out: React.ReactNode[] = [];
  let raised = false;
  parts.forEach((p, i) => {
    if (Array.isArray(p)) {
      out.push(<tspan key={i} dx={fs * 0.15} dy={-0.42 * fs} fontSize={0.8 * fs}>{p[0]}</tspan>);
      raised = true;
    } else {
      out.push(<tspan key={i} dy={raised ? 0.42 * fs : 0}>{p}</tspan>);
      raised = false;
    }
  });
  return out;
}

const gridSeries = (vals: (number | null)[], step: number): Gap[] =>
  vals.map((v, i) => (v === null ? null : [i * step, v] as Pt));

const cut = (pts: Gap[], lo: number, hi: number): Gap[] =>
  pts.filter((p) => p === null || (p[0] >= lo && p[0] <= hi));

interface LineSeries { kind: "line"; pts: Gap[]; color: string; width: number }
interface BarSeries { kind: "bars"; bars: Bar[]; color: string; width: number }
type Series = LineSeries | BarSeries;

interface LegendItem { label: Part[]; color: string; width: number }

interface PanelProps {
  id: string;
  top: number;
  xDomain: [number, number];
  yDomain: [number, number];
  xTicks: number[];
  yTicks: number[];
  yLabel: Part[];
  yLabelX: number;
  xLabel: Part[];
  shade?: [number, number];
  series: Series[];
  legend: { x1: number; x2: number; tx: number; rows: number[]; items: LegendItem[] };
}

function Panel(p: PanelProps) {
  const bottom = p.top + PLOT_H;
  const x: Scale = d3.scaleLinear(p.xDomain, [PLOT_L, PLOT_R]);
  const y: Scale = d3.scaleLinear(p.yDomain, [bottom, p.top]);
  const line = d3
    .line<Gap>()
    .defined((d) => d !== null)
    .x((d) => x(d![0]))
    .y((d) => y(d![1]));
  const clip = `clip-${p.id}`;
  const tickFs = 38;
  const labFs = 46;
  const legFs = 39;

  return (
    <g>
      <defs>
        <clipPath id={clip}>
          <rect x={PLOT_L} y={p.top} width={PLOT_R - PLOT_L} height={PLOT_H} />
        </clipPath>
      </defs>
      <g clipPath={`url(#${clip})`}>
        {p.series.map((s, i) =>
          s.kind === "line" ? (
            <path key={i} d={line(s.pts) || ""} fill="none" stroke={s.color} strokeWidth={s.width}
              strokeLinejoin="round" strokeLinecap="butt" />
          ) : (
            <g key={i} stroke={s.color} strokeWidth={s.width}>
              {s.bars.map((b, j) => (
                <line key={j} x1={x(b[0])} x2={x(b[0])} y1={y(b[1])} y2={y(b[2])} />
              ))}
            </g>
          )
        )}
        {p.shade &&
          nightSpans.map((n, i) => (
            <rect key={i} x={x(n[0])} width={x(n[1]) - x(n[0])}
              y={y(p.shade![1])} height={y(p.shade![0]) - y(p.shade![1])}
              fill="#ffff00" fillOpacity={0.15} />
          ))}
      </g>

      {/* axes */}
      <line x1={PLOT_L} x2={PLOT_R} y1={bottom} y2={bottom} stroke={DARK} strokeWidth={2} />
      <line x1={PLOT_L} x2={PLOT_L} y1={p.top} y2={bottom} stroke={AXIS_BLUE} strokeWidth={2} />
      <line x1={PLOT_R} x2={PLOT_R} y1={p.top} y2={bottom} stroke="#2f80c4" strokeWidth={4} />
      {p.yTicks.map((t) => (
        <g key={t}>
          <line x1={PLOT_L} x2={PLOT_L + 27} y1={y(t)} y2={y(t)} stroke={AXIS_BLUE} strokeWidth={2} />
          <text x={346} y={y(t)} dy="0.36em" textAnchor="end" fontSize={tickFs} fill={AXIS_BLUE}>{t}</text>
        </g>
      ))}
      {p.xTicks.map((t) => (
        <g key={t}>
          <line x1={x(t)} x2={x(t)} y1={bottom} y2={bottom - 27} stroke={DARK} strokeWidth={2} />
          <text x={x(t)} y={bottom + 49} dy="0.36em" textAnchor="middle" fontSize={tickFs} fill={DARK}>{t}</text>
        </g>
      ))}
      <text x={(PLOT_L + PLOT_R) / 2} y={bottom + 134} textAnchor="middle" fontSize={labFs} fill={DARK}>
        {rich(p.xLabel, labFs)}
      </text>
      <text transform={`translate(${p.yLabelX},${p.top + PLOT_H / 2}) rotate(-90)`} dy="0.36em"
        textAnchor="middle" fontSize={labFs} fill={AXIS_BLUE}>
        {rich(p.yLabel, labFs)}
      </text>

      {/* legend */}
      {p.legend.items.map((it, i) => {
        const ry = p.top + p.legend.rows[i];
        return (
          <g key={i}>
            <line x1={p.legend.x1} x2={p.legend.x2} y1={ry} y2={ry} stroke={it.color} strokeWidth={it.width} />
            <text x={p.legend.tx} y={ry} dy="0.36em" fontSize={legFs} fill="#000">{rich(it.label, legFs)}</text>
          </g>
        );
      })}
    </g>
  );
}

const BROWN = "#A52A2A";
const ORANGE = "#FFA500";
const GREEN = "#008000";
const BLUE = "#0000FF";
const LIGHTBLUE = "#ADD8E6";
const RED = "#FF0000";
const BLACK = "#000000";

const hourLabel: Part[] = ["UTC hours on 20250402"];
const wnLabel: Part[] = ["Wavenumber, cm", ["-1"]];
const radLabel: Part[] = ["Mean Radiance, mW/(m", ["2"], " sr cm", ["-1"], ")"];

export default function App() {
  useLayoutEffect(() => {
    document.body.style.margin = "0";
    document.body.style.overflow = "hidden";
  }, []);

  const win2510Pts = gridSeries(win2510, win2510Step);
  const s675 = gridSeries(bt675, surfStep);
  const s700 = gridSeries(bt700, surfStep);
  const s2295 = gridSeries(bt2295, surfStep);
  const s2282 = gridSeries(bt2282, surfStep);
  const longMean: Gap[] = specLong.map((d) => [d[0], d[1]]);
  const longCloudy: Gap[] = specLong.map((d) => [d[0], d[2]]);
  const shortMean: Gap[] = specShort.map((d) => [d[0], d[1]]);
  const shortCloudy: Gap[] = specShort.map((d) => [d[0], d[2]]);

  const tops = [296, 1421, 2546, 3671, 4795];
  const legA = { x1: 1401, x2: 1633, tx: 1660 };
  const legB = { x1: 1908, x2: 2143, tx: 2167 };
  const legC = { x1: 1830, x2: 2064, tx: 2088 };

  // the whole 3825x6000 figure is fitted into the visible window
  return (
    <svg viewBox={`0 0 ${PAGE_W} ${PAGE_H}`} preserveAspectRatio="none"
      style={{ display: "block", width: "100vw", height: "100vh", background: "#fff" }} fontFamily={FONT}>
      <rect width={PAGE_W} height={PAGE_H} fill="#fff" />

      <Panel id="p1" top={tops[0]} xDomain={[0, 24]} yDomain={[170, 305]} xTicks={hourTicks} yTicks={btTicks}
        yLabel={["AERI 985-900 cm", ["-1"], " (Window) BT"]} yLabelX={221} xLabel={hourLabel} shade={[170, 305]}
        series={[
          { kind: "line", pts: nadir85, color: BROWN, width: 7 },
          { kind: "line", pts: nadir95, color: ORANGE, width: 7 },
          { kind: "line", pts: nadir125, color: GREEN, width: 7 },
          { kind: "line", pts: win985Clear, color: BLUE, width: 4 },
          { kind: "bars", bars: win985Bars, color: BLUE, width: 9 },
        ]}
        legend={{ ...legA, rows: [127, 193, 261, 328], items: [
          { label: ["85", ["o"], " WRT Nadir"], color: BROWN, width: 7 },
          { label: ["95", ["o"], " WRT Nadir"], color: ORANGE, width: 7 },
          { label: ["125", ["o"], " WRT Nadir"], color: GREEN, width: 7 },
          { label: ["180", ["o"], " WRT Nadir"], color: BLUE, width: 7 },
        ] }}
      />

      <Panel id="p2" top={tops[1]} xDomain={[0, 24]} yDomain={[170, 305]} xTicks={hourTicks} yTicks={btTicks}
        yLabel={["Zenith BTs, K"]} yLabelX={219} xLabel={hourLabel} shade={[170, 305]}
        series={[
          { kind: "line", pts: win985Clear, color: BLUE, width: 4 },
          { kind: "bars", bars: win985Bars, color: BLUE, width: 9 },
          { kind: "line", pts: win2510Pts, color: LIGHTBLUE, width: 3.5 },
        ]}
        legend={{ ...legB, rows: [85, 150], items: [
          { label: ["AERI 985-900 cm", ["-1"], " (Window)"], color: BLUE, width: 8 },
          { label: ["AERI 2510-2515 cm", ["-1"], " (Window)"], color: LIGHTBLUE, width: 4 },
        ] }}
      />

      <Panel id="p3" top={tops[2]} xDomain={[0, 24]} yDomain={[278.76, 298.79]} xTicks={hourTicks} yTicks={surfTicks}
        yLabel={["Zenith BTs, K"]} yLabelX={219} xLabel={hourLabel} shade={[284, 296]}
        series={[
          { kind: "line", pts: cut(s675, 0, 7.8), color: ORANGE, width: 7 },
          { kind: "line", pts: cut(s675, 7.8, 24), color: ORANGE, width: 4 },
          { kind: "line", pts: cut(s700, 0, 7.8), color: BLUE, width: 7 },
          { kind: "line", pts: cut(s700, 7.8, 24), color: BLUE, width: 3.5 },
          { kind: "line", pts: s2295, color: BROWN, width: 3.5 },
          { kind: "line", pts: s2282, color: LIGHTBLUE, width: 3.5 },
        ]}
        legend={{ ...legB, rows: [125, 193, 260, 328], items: [
          { label: ["AERI 675-680 cm", ["-1"], " (Surf Air)"], color: ORANGE, width: 8 },
          { label: ["AERI 700-705 cm", ["-1"]], color: BLUE, width: 8 },
          { label: ["AERI 2295-2300 cm", ["-1"], " (Surf Air)"], color: BROWN, width: 4 },
          { label: ["AERI 2282-2287 cm", ["-1"]], color: LIGHTBLUE, width: 4 },
        ] }}
      />

      <Panel id="p4" top={tops[3]} xDomain={[520, 1800]} yDomain={[1.8, 144.2]} xTicks={wnLongTicks} yTicks={radLongTicks}
        yLabel={radLabel} yLabelX={220} xLabel={wnLabel}
        series={[
          { kind: "line", pts: longMean, color: BLACK, width: 4.5 },
          { kind: "line", pts: longCloudy, color: RED, width: 4.5 },
        ]}
        legend={{ ...legC, rows: [65, 123], items: [
          { label: ["Mean Radiance 0 to 24h UTC 20250402"], color: BLACK, width: 4 },
          { label: ["... cloudy"], color: RED, width: 4 },
        ] }}
      />

      <Panel id="p5" top={tops[4]} xDomain={[1800, 3020]} yDomain={[-0.41, 9.69]} xTicks={wnShortTicks} yTicks={radShortTicks}
        yLabel={radLabel} yLabelX={266} xLabel={wnLabel}
        series={[
          { kind: "line", pts: shortMean, color: BLACK, width: 4.5 },
          { kind: "line", pts: shortCloudy, color: RED, width: 4.5 },
        ]}
        legend={{ ...legC, rows: [67, 124], items: [
          { label: ["Mean Radiance 0 to 24h UTC 20250402"], color: BLACK, width: 4 },
          { label: ["... cloudy"], color: RED, width: 4 },
        ] }}
      />
    </svg>
  );
}
